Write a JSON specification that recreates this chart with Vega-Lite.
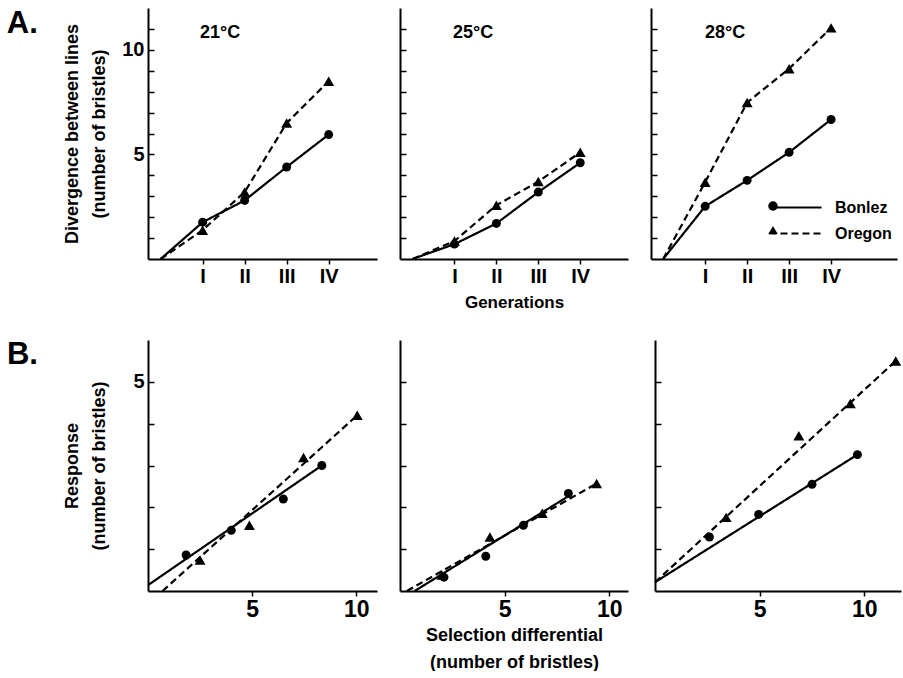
{
  "$schema": "https://vega.github.io/schema/vega-lite/v6.json",
  "background": "white",
  "padding": {"left": 6, "top": 8, "right": 0, "bottom": 0},
  "datasets": {
    "gen": [
      {"temp": "21°C", "line": "Bonlez", "gen": 0, "div": 0},
      {"temp": "21°C", "line": "Bonlez", "gen": 1, "div": 1.76},
      {"temp": "21°C", "line": "Bonlez", "gen": 2, "div": 2.8},
      {"temp": "21°C", "line": "Bonlez", "gen": 3, "div": 4.4},
      {"temp": "21°C", "line": "Bonlez", "gen": 4, "div": 5.95},
      {"temp": "21°C", "line": "Oregon", "gen": 0, "div": 0},
      {"temp": "21°C", "line": "Oregon", "gen": 1, "div": 1.38},
      {"temp": "21°C", "line": "Oregon", "gen": 2, "div": 3.2},
      {"temp": "21°C", "line": "Oregon", "gen": 3, "div": 6.5},
      {"temp": "21°C", "line": "Oregon", "gen": 4, "div": 8.5},
      {"temp": "25°C", "line": "Bonlez", "gen": 0, "div": 0},
      {"temp": "25°C", "line": "Bonlez", "gen": 1, "div": 0.71},
      {"temp": "25°C", "line": "Bonlez", "gen": 2, "div": 1.7},
      {"temp": "25°C", "line": "Bonlez", "gen": 3, "div": 3.2},
      {"temp": "25°C", "line": "Bonlez", "gen": 4, "div": 4.6},
      {"temp": "25°C", "line": "Oregon", "gen": 0, "div": 0},
      {"temp": "25°C", "line": "Oregon", "gen": 1, "div": 0.86},
      {"temp": "25°C", "line": "Oregon", "gen": 2, "div": 2.57},
      {"temp": "25°C", "line": "Oregon", "gen": 3, "div": 3.7},
      {"temp": "25°C", "line": "Oregon", "gen": 4, "div": 5.1},
      {"temp": "28°C", "line": "Bonlez", "gen": 0, "div": 0},
      {"temp": "28°C", "line": "Bonlez", "gen": 1, "div": 2.52},
      {"temp": "28°C", "line": "Bonlez", "gen": 2, "div": 3.76},
      {"temp": "28°C", "line": "Bonlez", "gen": 3, "div": 5.1},
      {"temp": "28°C", "line": "Bonlez", "gen": 4, "div": 6.67},
      {"temp": "28°C", "line": "Oregon", "gen": 0, "div": 0},
      {"temp": "28°C", "line": "Oregon", "gen": 1, "div": 3.67},
      {"temp": "28°C", "line": "Oregon", "gen": 2, "div": 7.48},
      {"temp": "28°C", "line": "Oregon", "gen": 3, "div": 9.1},
      {"temp": "28°C", "line": "Oregon", "gen": 4, "div": 11.05}
    ],
    "sel": [
      {"temp": "21°C", "line": "Bonlez", "sd": 1.83, "resp": 0.86},
      {"temp": "21°C", "line": "Bonlez", "sd": 4.0, "resp": 1.45},
      {"temp": "21°C", "line": "Bonlez", "sd": 6.5, "resp": 2.2},
      {"temp": "21°C", "line": "Bonlez", "sd": 8.35, "resp": 3.0},
      {"temp": "21°C", "line": "Oregon", "sd": 2.5, "resp": 0.74},
      {"temp": "21°C", "line": "Oregon", "sd": 4.87, "resp": 1.57},
      {"temp": "21°C", "line": "Oregon", "sd": 7.47, "resp": 3.19},
      {"temp": "21°C", "line": "Oregon", "sd": 10.05, "resp": 4.2},
      {"temp": "25°C", "line": "Bonlez", "sd": 2.1, "resp": 0.33},
      {"temp": "25°C", "line": "Bonlez", "sd": 4.1, "resp": 0.83},
      {"temp": "25°C", "line": "Bonlez", "sd": 5.9, "resp": 1.57},
      {"temp": "25°C", "line": "Bonlez", "sd": 8.05, "resp": 2.33},
      {"temp": "25°C", "line": "Oregon", "sd": 2.0, "resp": 0.38},
      {"temp": "25°C", "line": "Oregon", "sd": 4.3, "resp": 1.29},
      {"temp": "25°C", "line": "Oregon", "sd": 6.8, "resp": 1.86},
      {"temp": "25°C", "line": "Oregon", "sd": 9.4, "resp": 2.57},
      {"temp": "28°C", "line": "Bonlez", "sd": 2.6, "resp": 1.29},
      {"temp": "28°C", "line": "Bonlez", "sd": 4.95, "resp": 1.83},
      {"temp": "28°C", "line": "Bonlez", "sd": 7.5, "resp": 2.55},
      {"temp": "28°C", "line": "Bonlez", "sd": 9.67, "resp": 3.26},
      {"temp": "28°C", "line": "Oregon", "sd": 3.4, "resp": 1.76},
      {"temp": "28°C", "line": "Oregon", "sd": 6.87, "resp": 3.71},
      {"temp": "28°C", "line": "Oregon", "sd": 9.33, "resp": 4.48},
      {"temp": "28°C", "line": "Oregon", "sd": 11.5, "resp": 5.5}
    ],
    "fit": [
      {"temp": "21°C", "line": "Bonlez", "sd": 0, "resp": 0.14},
      {"temp": "21°C", "line": "Bonlez", "sd": 8.35, "resp": 3.0},
      {"temp": "21°C", "line": "Oregon", "sd": 0.7, "resp": 0},
      {"temp": "21°C", "line": "Oregon", "sd": 10.05, "resp": 4.2},
      {"temp": "25°C", "line": "Bonlez", "sd": 0.7, "resp": 0},
      {"temp": "25°C", "line": "Bonlez", "sd": 8.0, "resp": 2.25},
      {"temp": "25°C", "line": "Oregon", "sd": 0.33, "resp": 0},
      {"temp": "25°C", "line": "Oregon", "sd": 9.4, "resp": 2.57},
      {"temp": "28°C", "line": "Bonlez", "sd": 0, "resp": 0.21},
      {"temp": "28°C", "line": "Bonlez", "sd": 9.67, "resp": 3.26},
      {"temp": "28°C", "line": "Oregon", "sd": 0, "resp": 0.21},
      {"temp": "28°C", "line": "Oregon", "sd": 11.5, "resp": 5.5}
    ]
  },
  "config": {
    "view": {"stroke": null},
    "font": "Liberation Sans",
    "axis": {
      "grid": false,
      "domainColor": "black",
      "domainWidth": 2,
      "tickColor": "black",
      "tickWidth": 1.5,
      "labelColor": "black",
      "labelFont": "Liberation Sans",
      "labelFontWeight": "bold",
      "titleColor": "black",
      "titleFont": "Liberation Sans",
      "titleFontWeight": "bold",
      "titleFontSize": 18,
      "titleLineHeight": 27
    },
    "title": {"color": "black", "font": "Liberation Sans", "fontWeight": "bold"}
  },
  "spacing": 29,
  "resolve": {"scale": {"shape": "independent", "strokeDash": "independent"}},
  "vconcat": [
    {
      "title": {"text": "A.", "orient": "left", "anchor": "end", "angle": 0, "align": "right", "baseline": "alphabetic", "dy": 25, "offset": -5, "fontSize": 31},
      "spacing": 22,
      "resolve": {"scale": {"shape": "independent", "strokeDash": "independent"}},
      "hconcat": [
        {
          "width": 229, "height": 251,
          "title": {"text": "21°C", "anchor": "start", "frame": "group", "offset": -34, "dx": 52, "fontSize": 18},
          "data": {"name": "gen"},
          "transform": [{"filter": "datum.temp == '21°C'"}],
          "encoding": {
            "x": {"field": "gen", "type": "quantitative", "scale": {"domain": [-0.3, 5.15], "nice": false, "zero": false},
              "axis": {"values": [1, 2, 3, 4], "labelExpr": "datum.value == 1 ? 'I' : datum.value == 2 ? 'II' : datum.value == 3 ? 'III' : 'IV'", "labelFontSize": 20, "tickSize": 5, "labelPadding": 2, "title": null}},
            "y": {"field": "div", "type": "quantitative", "scale": {"domain": [0, 12], "nice": false},
              "axis": {"values": [1, 2, 3, 4, 5, 6, 7, 8, 9, 10, 11], "labelExpr": "datum.value == 5 || datum.value == 10 ? datum.label : ''", "labelFontSize": 20, "tickSize": -6, "labelPadding": 10, "title": ["Divergence between lines", "(number of bristles)"], "titlePadding": 13}}
          },
          "layer": [
            {"mark": {"type": "line", "color": "black", "strokeWidth": 2.2},
             "encoding": {"strokeDash": {"field": "line", "type": "nominal", "scale": {"range": [[1, 0], [7, 4]]}, "legend": null}}},
            {"transform": [{"filter": "datum.gen > 0"}],
             "mark": {"type": "point", "filled": true, "color": "black", "opacity": 1},
             "encoding": {
               "shape": {"field": "line", "type": "nominal", "scale": {"domain": ["Bonlez", "Oregon"], "range": ["circle", "triangle-up"]}, "legend": null},
               "size": {"field": "line", "type": "nominal", "scale": {"domain": ["Bonlez", "Oregon"], "range": [80, 120]}, "legend": null}}}
          ]
        },
        {
          "width": 228, "height": 251,
          "title": {"text": "25°C", "anchor": "start", "frame": "group", "offset": -34, "dx": 53, "fontSize": 18},
          "data": {"name": "gen"},
          "transform": [{"filter": "datum.temp == '25°C'"}],
          "encoding": {
            "x": {"field": "gen", "type": "quantitative", "scale": {"domain": [-0.3, 5.14], "nice": false, "zero": false},
              "axis": {"values": [1, 2, 3, 4], "labelExpr": "datum.value == 1 ? 'I' : datum.value == 2 ? 'II' : datum.value == 3 ? 'III' : 'IV'", "labelFontSize": 20, "tickSize": 5, "labelPadding": 2, "title": "Generations", "titleFontSize": 17, "titlePadding": 8}},
            "y": {"field": "div", "type": "quantitative", "scale": {"domain": [0, 12], "nice": false},
              "axis": {"values": [1, 2, 3, 4, 5, 6, 7, 8, 9, 10, 11], "labels": false, "tickSize": -6, "title": null}}
          },
          "layer": [
            {"mark": {"type": "line", "color": "black", "strokeWidth": 2.2},
             "encoding": {"strokeDash": {"field": "line", "type": "nominal", "scale": {"range": [[1, 0], [7, 4]]}, "legend": null}}},
            {"transform": [{"filter": "datum.gen > 0"}],
             "mark": {"type": "point", "filled": true, "color": "black", "opacity": 1},
             "encoding": {
               "shape": {"field": "line", "type": "nominal", "scale": {"domain": ["Bonlez", "Oregon"], "range": ["circle", "triangle-up"]}, "legend": null},
               "size": {"field": "line", "type": "nominal", "scale": {"domain": ["Bonlez", "Oregon"], "range": [80, 120]}, "legend": null}}}
          ]
        },
        {
          "width": 246, "height": 251,
          "title": {"text": "28°C", "anchor": "start", "frame": "group", "offset": -34, "dx": 54, "fontSize": 18},
          "data": {"name": "gen"},
          "transform": [{"filter": "datum.temp == '28°C'"}],
          "encoding": {
            "x": {"field": "gen", "type": "quantitative", "scale": {"domain": [-0.29, 5.57], "nice": false, "zero": false},
              "axis": {"values": [1, 2, 3, 4], "labelExpr": "datum.value == 1 ? 'I' : datum.value == 2 ? 'II' : datum.value == 3 ? 'III' : 'IV'", "labelFontSize": 20, "tickSize": 5, "labelPadding": 2, "title": null}},
            "y": {"field": "div", "type": "quantitative", "scale": {"domain": [0, 12], "nice": false},
              "axis": {"values": [1, 2, 3, 4, 5, 6, 7, 8, 9, 10, 11], "labels": false, "tickSize": -6, "title": null}}
          },
          "layer": [
            {"mark": {"type": "line", "color": "black", "strokeWidth": 2.2},
             "encoding": {"strokeDash": {"field": "line", "type": "nominal", "scale": {"range": [[1, 0], [7, 4]]},
               "legend": {"orient": "none", "legendX": 135, "legendY": 190, "title": null, "padding": 0, "symbolType": "M-3.06,0H3.06", "symbolSize": 289, "symbolStrokeWidth": 2, "symbolStrokeColor": "black", "symbolFillColor": "transparent", "labelFont": "Liberation Sans", "labelFontSize": 16, "labelFontWeight": "bold", "labelColor": "black", "labelOffset": 30, "rowPadding": 8}}}},
            {"transform": [{"filter": "datum.gen > 0"}],
             "mark": {"type": "point", "filled": true, "color": "black", "opacity": 1},
             "encoding": {
               "shape": {"field": "line", "type": "nominal", "scale": {"domain": ["Bonlez", "Oregon"], "range": ["circle", "triangle-up"]},
                 "legend": {"orient": "none", "legendX": 114, "legendY": 190, "title": null, "padding": 0, "symbolSize": 90, "symbolFillColor": "black", "symbolStrokeColor": "black", "labelExpr": "''", "labelFontSize": 16, "rowPadding": 8}},
               "size": {"field": "line", "type": "nominal", "scale": {"domain": ["Bonlez", "Oregon"], "range": [80, 120]}, "legend": null}}}
          ]
        }
      ]
    },
    {
      "title": {"text": "B.", "orient": "left", "anchor": "end", "angle": 0, "align": "right", "baseline": "alphabetic", "dy": 24, "offset": -5, "fontSize": 31},
      "spacing": 22,
      "resolve": {"scale": {"shape": "independent", "strokeDash": "independent"}},
      "hconcat": [
        {
          "width": 229, "height": 251,
          "encoding": {
            "x": {"field": "sd", "type": "quantitative", "scale": {"domain": [0, 11], "nice": false},
              "axis": {"values": [5, 10], "labelFontSize": 23, "tickSize": 5, "labelPadding": 2, "title": null}},
            "y": {"field": "resp", "type": "quantitative", "scale": {"domain": [0, 6], "nice": false},
              "axis": {"values": [1, 2, 3, 4, 5], "labelExpr": "datum.value == 5 ? datum.label : ''", "labelFontSize": 20, "tickSize": -6, "labelPadding": 10, "title": ["Response", "(number of bristles)"], "titlePadding": 24}}
          },
          "layer": [
            {"data": {"name": "fit"}, "transform": [{"filter": "datum.temp == '21°C'"}],
             "mark": {"type": "line", "color": "black", "strokeWidth": 2.2},
             "encoding": {"strokeDash": {"field": "line", "type": "nominal", "scale": {"range": [[1, 0], [7, 4]]}, "legend": null}}},
            {"data": {"name": "sel"}, "transform": [{"filter": "datum.temp == '21°C'"}],
             "mark": {"type": "point", "filled": true, "color": "black", "opacity": 1},
             "encoding": {
               "shape": {"field": "line", "type": "nominal", "scale": {"domain": ["Bonlez", "Oregon"], "range": ["circle", "triangle-up"]}, "legend": null},
               "size": {"field": "line", "type": "nominal", "scale": {"domain": ["Bonlez", "Oregon"], "range": [80, 120]}, "legend": null}}}
          ]
        },
        {
          "width": 228, "height": 251,
          "encoding": {
            "x": {"field": "sd", "type": "quantitative", "scale": {"domain": [0, 10.9], "nice": false},
              "axis": {"values": [5, 10], "labelFontSize": 23, "tickSize": 5, "labelPadding": 2, "title": ["Selection differential", "(number of bristles)"], "titleLineHeight": 27, "titlePadding": 5}},
            "y": {"field": "resp", "type": "quantitative", "scale": {"domain": [0, 6], "nice": false},
              "axis": {"values": [1, 2, 3, 4, 5], "labels": false, "tickSize": -6, "title": null}}
          },
          "layer": [
            {"data": {"name": "fit"}, "transform": [{"filter": "datum.temp == '25°C'"}],
             "mark": {"type": "line", "color": "black", "strokeWidth": 2.2},
             "encoding": {"strokeDash": {"field": "line", "type": "nominal", "scale": {"range": [[1, 0], [7, 4]]}, "legend": null}}},
            {"data": {"name": "sel"}, "transform": [{"filter": "datum.temp == '25°C'"}],
             "mark": {"type": "point", "filled": true, "color": "black", "opacity": 1},
             "encoding": {
               "shape": {"field": "line", "type": "nominal", "scale": {"domain": ["Bonlez", "Oregon"], "range": ["circle", "triangle-up"]}, "legend": null},
               "size": {"field": "line", "type": "nominal", "scale": {"domain": ["Bonlez", "Oregon"], "range": [80, 120]}, "legend": null}}}
          ]
        },
        {
          "width": 246, "height": 251,
          "encoding": {
            "x": {"field": "sd", "type": "quantitative", "scale": {"domain": [0, 11.75], "nice": false},
              "axis": {"values": [5, 10], "labelFontSize": 23, "tickSize": 5, "labelPadding": 2, "title": null}},
            "y": {"field": "resp", "type": "quantitative", "scale": {"domain": [0, 6], "nice": false},
              "axis": {"values": [1, 2, 3, 4, 5], "labels": false, "tickSize": -6, "title": null}}
          },
          "layer": [
            {"data": {"name": "fit"}, "transform": [{"filter": "datum.temp == '28°C'"}],
             "mark": {"type": "line", "color": "black", "strokeWidth": 2.2},
             "encoding": {"strokeDash": {"field": "line", "type": "nominal", "scale": {"range": [[1, 0], [7, 4]]}, "legend": null}}},
            {"data": {"name": "sel"}, "transform": [{"filter": "datum.temp == '28°C'"}],
             "mark": {"type": "point", "filled": true, "color": "black", "opacity": 1},
             "encoding": {
               "shape": {"field": "line", "type": "nominal", "scale": {"domain": ["Bonlez", "Oregon"], "range": ["circle", "triangle-up"]}, "legend": null},
               "size": {"field": "line", "type": "nominal", "scale": {"domain": ["Bonlez", "Oregon"], "range": [80, 120]}, "legend": null}}}
          ]
        }
      ]
    }
  ]
}
